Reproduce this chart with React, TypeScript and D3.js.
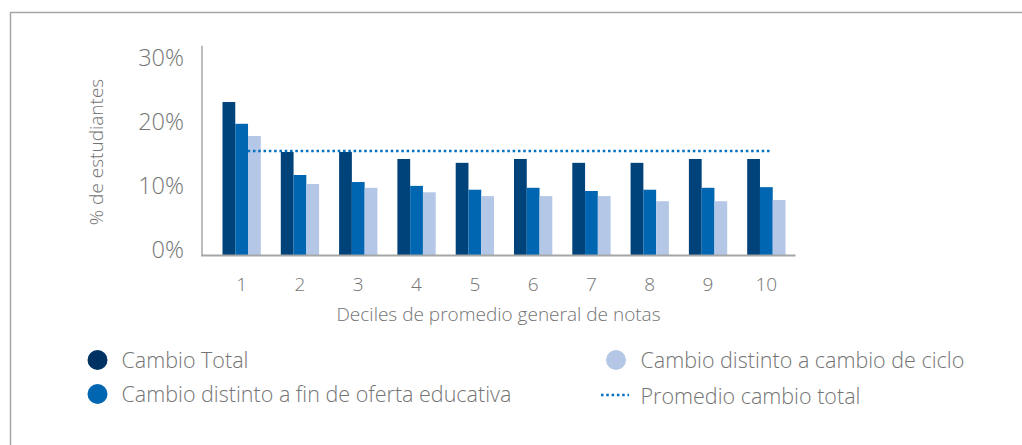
import React from "react";
import * as d3 from "d3";

// deciles on the x axis
const deciles = ["1", "2", "3", "4", "5", "6", "7", "8", "9", "10"];

// series values (share of students)
const cambioTotal = [0.239, 0.161, 0.161, 0.15, 0.144, 0.15, 0.144, 0.144, 0.15, 0.15];
const cambioFinOferta = [0.205, 0.125, 0.114, 0.108, 0.102, 0.105, 0.1, 0.102, 0.105, 0.106];
const cambioCiclo = [0.186, 0.111, 0.105, 0.098, 0.092, 0.092, 0.092, 0.084, 0.084, 0.086];
const promedioTotal = [0.1625, 0.1625, 0.1625, 0.1625, 0.1625, 0.1625, 0.1625, 0.1625, 0.1625, 0.1625];

const yTicks = [0, 0.1, 0.2, 0.3];

const seriesNames = [
  "Cambio Total",
  "Cambio distinto a fin de oferta educativa",
  "Cambio distinto a cambio de ciclo",
];
const lineName = "Promedio cambio total";

const W = 1022;
const H = 445;
const FONT = "'Open Sans', 'Noto Sans', sans-serif";
const TEXT = "#747474";
const AXIS = "#a6a6a6";
const barColors = ["#00427a", "#0066b1", "#b4c7e7"];
const legendColors = ["#003163", "#0066b1", "#b4c7e7"];
const lineColor = "#0070c0";

const App = () => {
  const margin = { left: 212.5, right: W - 795.5 };
  const y0 = 255;

  const x = d3
    .scaleBand<string>()
    .domain(deciles)
    .range([margin.left, W - margin.right])
    .paddingInner(0.343)
    .paddingOuter(0.1715);

  const y = d3.scaleLinear().domain([0, 0.3]).range([y0, 63]);

  const xs = d3
    .scaleBand<number>()
    .domain([0, 1, 2])
    .range([0, x.bandwidth()]);

  const series = [cambioTotal, cambioFinOferta, cambioCiclo];

  const line = d3
    .line<number>()
    .x((_, i) => (x(deciles[i]) as number) + x.bandwidth() / 2 + 6)
    .y((d) => y(d));

  const pct = d3.format(".0%");

  return (
    <svg
      width={W}
      height={H}
      style={{ position: "absolute", left: 0, top: 0, background: "#fff" }}
      fontFamily={FONT}
    >
      {/* frame */}
      <path d={`M10.5,${H} V12.5 H${W}`} fill="none" stroke={AXIS} strokeWidth={1.5} />

      {/* y tick labels */}
      {yTicks.map((t) => (
        <text
          key={t}
          x={184}
          y={y(t) - 5 + 8.4}
          textAnchor="end"
          fontSize={23.5}
          fontWeight={300}
          fill={TEXT}
        >
          {pct(t)}
        </text>
      ))}

      {/* y title */}
      <text
        transform="translate(102.5,152) rotate(-90)"
        textAnchor="middle"
        fontSize={19}
        fontWeight={300}
        fill={TEXT}
      >
        % de estudiantes
      </text>

      {/* bars */}
      {series.map((vals, s) =>
        vals.map((v, i) => (
          <rect
            key={`${s}-${i}`}
            x={(x(deciles[i]) as number) + (xs(s) as number)}
            y={y(v)}
            width={xs.bandwidth()}
            height={y0 - y(v)}
            fill={barColors[s]}
          />
        ))
      )}

      {/* axes */}
      <line x1={202} x2={202} y1={y(0.327)} y2={y0 + 1} stroke={AXIS} strokeWidth={1.5} />
      <line x1={201} x2={795.5} y1={y0 + 0.5} y2={y0 + 0.5} stroke={AXIS} strokeWidth={2} />

      {/* average line */}
      <path
        d={line(promedioTotal) ?? ""}
        fill="none"
        stroke={lineColor}
        strokeWidth={2.5}
        strokeDasharray="2.5,2.8"
      />

      {/* x tick labels */}
      {deciles.map((d) => (
        <text
          key={d}
          x={(x(d) as number) + x.bandwidth() / 2}
          y={291}
          textAnchor="middle"
          fontSize={19}
          fontWeight={300}
          fill={TEXT}
        >
          {d}
        </text>
      ))}

      {/* x title */}
      <text x={498.5} y={320.5} textAnchor="middle" fontSize={19} fontWeight={300} fill={TEXT}>
        Deciles de promedio general de notas
      </text>

      {/* legend */}
      {[
        { cx: 97.5, cy: 360, tx: 121.5 },
        { cx: 97.5, cy: 394, tx: 121.5 },
        { cx: 616, cy: 360, tx: 640.5 },
      ].map((p, i) => (
        <g key={i}>
          <circle cx={p.cx} cy={p.cy} r={10} fill={legendColors[i]} />
          <text x={p.tx} y={p.cy + 7.7} fontSize={21.5} fontWeight={300} fill={TEXT}>
            {seriesNames[i]}
          </text>
        </g>
      ))}
      <line
        x1={601}
        x2={629}
        y1={395}
        y2={395}
        stroke={lineColor}
        strokeWidth={2.5}
        strokeDasharray="2.5,2.8"
      />
      <text x={640.5} y={403.7} fontSize={21.5} fontWeight={300} fill={TEXT}>
        {lineName}
      </text>
    </svg>
  );
};

export default App;
